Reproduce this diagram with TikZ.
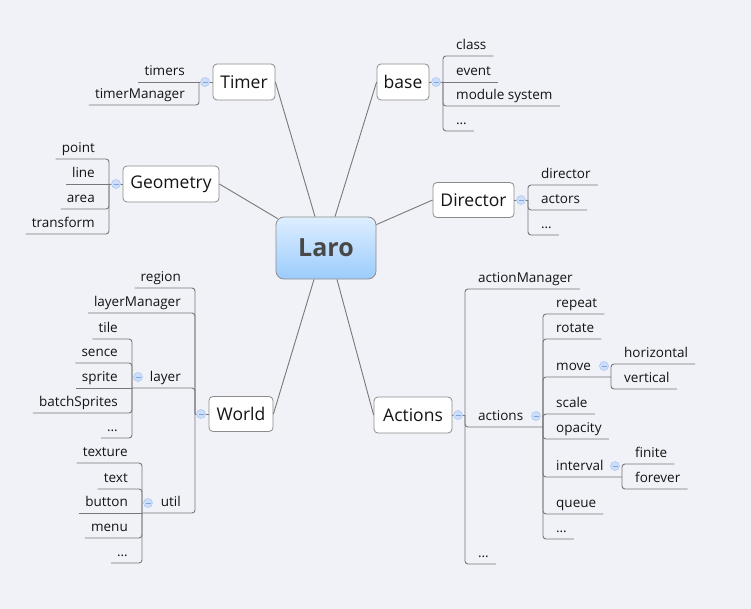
\documentclass[tikz,border=0pt]{standalone}
\usepackage{fontspec}
\setmainfont{Open Sans}
\definecolor{bgc}{RGB}{241,242,248}
\definecolor{lnc}{RGB}{120,120,120}
\definecolor{txc}{RGB}{20,20,20}
\definecolor{bxd}{RGB}{140,140,140}
\definecolor{cfill}{RGB}{205,222,250}
\definecolor{cdraw}{RGB}{175,200,240}
\definecolor{cminus}{RGB}{130,165,220}
\definecolor{rtop}{RGB}{222,238,255}
\definecolor{rbot}{RGB}{155,204,252}
\definecolor{rtxt}{RGB}{72,72,72}
\newcommand\lffont{\fontsize{13.5}{15}\selectfont}
\newcommand\bxfont{\fontsize{17.5}{20}\selectfont}
\newcommand\rtfont{\fontsize{25}{28}\selectfont\bfseries}
\tikzset{
 leaf/.style={inner sep=0pt, text height=10pt, text depth=6pt, font=\lffont, text=txc},
 leafR/.style={leaf, anchor=south west, execute at begin node={\hspace*{13pt}}, execute at end node={\hspace*{7pt}}},
 leafL/.style={leaf, anchor=south east, execute at begin node={\hspace*{6pt}}, execute at end node={\hspace*{14pt}}},
 topic/.style={draw=bxd, fill=white, rounded corners=4pt, line width=0.8pt, font=\bxfont, text=txc, inner sep=0pt},
 root/.style={draw=bxd, top color=rtop, bottom color=rbot, rounded corners=8pt, line width=0.8pt, font=\rtfont, text=rtxt, inner sep=0pt, minimum width=100pt, minimum height=62pt},
 conn/.style={draw=lnc, line width=0.9pt, rounded corners=3pt},
 mainln/.style={draw=lnc, line width=0.9pt},
 coll/.style={circle, inner sep=0pt, minimum size=9pt, fill=cfill, draw=cdraw, line width=0.6pt,
   path picture={\draw[cminus, line width=0.8pt] ([xshift=-2.5pt]path picture bounding box.center) -- ([xshift=2.5pt]path picture bounding box.center);}},
}
\begin{document}
\begin{tikzpicture}[x=1pt,y=-1pt]
\fill[bgc] (0,0) rectangle (751,609);
\useasboundingbox (0,0) rectangle (751,609);

% root and main topics
\node[root] (laro) at (326,248) {Laro};
\node[topic, minimum width=62pt, minimum height=36pt] (timer) at (244,82) {Timer};
\node[topic, minimum width=96pt, minimum height=36pt] (geo) at (171,184) {Geometry};
\node[topic, minimum width=52pt, minimum height=36pt] (base) at (403,82) {base};
\node[topic, minimum width=81pt, minimum height=35pt] (dir) at (473.5,200) {Director};
\node[topic, minimum width=64pt, minimum height=35pt] (world) at (241,414) {World};
\node[topic, minimum width=78pt, minimum height=36pt] (act) at (413,415) {Actions};

\draw[mainln] (timer.east) -- ([xshift=-11pt]laro.north);
\draw[mainln] (base.west) -- ([xshift=9pt]laro.north);
\draw[mainln] (geo.east) -- ([xshift=2pt,yshift=-2pt]laro.north west);
\draw[mainln] (dir.west) -- ([yshift=-8pt]laro.north east);
\draw[mainln] (world.east) -- ([xshift=-12pt]laro.south);
\draw[mainln] (act.west) -- ([xshift=11pt]laro.south);

% forks
\coordinate (fTimer) at (199,82);
\coordinate (fGeo) at (109,184);
\coordinate (fBase) at (443,82);
\coordinate (fDir) at (528,200);
\coordinate (fWorld) at (195,414);
\coordinate (fLayer) at (132,388);
\coordinate (fUtil) at (142,513);
\coordinate (fAct) at (465,415);
\coordinate (fActs) at (543,427);
\coordinate (fMove) at (611,377);
\coordinate (fInt) at (622,477);

% Timer
\node[leafL] (lTimers) at (199,82) {timers};
\node[leafL] (lTimerManager) at (199,105) {timerManager};
\draw[conn] (timer.west) -- (fTimer);
\draw[conn] (fTimer) -- (lTimers.south west);
\draw[conn] (fTimer) |- (lTimerManager.south west);

% Geometry
\node[leafL] (lPoint) at (109,159) {point};
\node[leafL] (lLine) at (109,184) {line};
\node[leafL] (lArea) at (109,209) {area};
\node[leafL] (lTransform) at (109,234) {transform};
\draw[conn] (geo.west) -- (fGeo);
\draw[conn] (fGeo) |- (lPoint.south west);
\draw[conn] (fGeo) -- (lLine.south west);
\draw[conn] (fGeo) |- (lArea.south west);
\draw[conn] (fGeo) |- (lTransform.south west);

% base
\node[leafR] (lClass) at (443,56) {class};
\node[leafR] (lEvent) at (443,82) {event};
\node[leafR] (lModule) at (443,106) {module system};
\node[leafR] (lBaseDots) at (443,131) {…};
\draw[conn] (base.east) -- (fBase);
\draw[conn] (fBase) |- (lClass.south east);
\draw[conn] (fBase) -- (lEvent.south east);
\draw[conn] (fBase) |- (lModule.south east);
\draw[conn] (fBase) |- (lBaseDots.south east);

% Director
\node[leafR] (lDirector) at (528,185) {director};
\node[leafR] (lActors) at (528,210) {actors};
\node[leafR] (lDirDots) at (528,235) {…};
\draw[conn] (dir.east) -- (fDir);
\draw[conn] (fDir) |- (lDirector.south east);
\draw[conn] (fDir) |- (lActors.south east);
\draw[conn] (fDir) |- (lDirDots.south east);

% World
\node[leafL] (lRegion) at (195,288) {region};
\node[leafL] (lLayerManager) at (195,313) {layerManager};
\node[leafL] (lLayer) at (195,388) {layer};
\node[leafL] (lUtil) at (195,513) {util};
\draw[conn] (world.west) -- (fWorld);
\draw[conn] (fWorld) |- (lRegion.south west);
\draw[conn] (fWorld) |- (lLayerManager.south west);
\draw[conn] (fWorld) |- (lLayer.south) -- (fLayer);
\draw[conn] (fWorld) |- (lUtil.south) -- (fUtil);

% layer
\node[leafL] (lTile) at (132,339) {tile};
\node[leafL] (lSence) at (132,363) {sence};
\node[leafL] (lSprite) at (132,388) {sprite};
\node[leafL] (lBatch) at (132,413) {batchSprites};
\node[leafL] (lLayerDots) at (132,438) {…};
\draw[conn] (fLayer) |- (lTile.south west);
\draw[conn] (fLayer) |- (lSence.south west);
\draw[conn] (fLayer) -- (lSprite.south west);
\draw[conn] (fLayer) |- (lBatch.south west);
\draw[conn] (fLayer) |- (lLayerDots.south west);

% util
\node[leafL] (lTexture) at (142,463) {texture};
\node[leafL] (lText) at (142,489) {text};
\node[leafL] (lButton) at (142,513) {button};
\node[leafL] (lMenu) at (142,538) {menu};
\node[leafL] (lUtilDots) at (142,563) {…};
\draw[conn] (fUtil) |- (lTexture.south west);
\draw[conn] (fUtil) |- (lText.south west);
\draw[conn] (fUtil) -- (lButton.south west);
\draw[conn] (fUtil) |- (lMenu.south west);
\draw[conn] (fUtil) |- (lUtilDots.south west);

% Actions
\node[leafR] (lActionManager) at (465,289) {actionManager};
\node[leafR] (lActions) at (465,427) {actions};
\node[leafR] (lActDots) at (465,564) {…};
\draw[conn] (act.east) -- (fAct);
\draw[conn] (fAct) |- (lActionManager.south east);
\draw[conn] (fAct) |- (lActions.south) -- (fActs);
\draw[conn] (fAct) |- (lActDots.south east);

% actions
\node[leafR] (lRepeat) at (543,314) {repeat};
\node[leafR] (lRotate) at (543,339) {rotate};
\node[leafR] (lMove) at (543,377) {move};
\node[leafR] (lScale) at (543,414) {scale};
\node[leafR] (lOpacity) at (543,439) {opacity};
\node[leafR] (lInterval) at (543,477) {interval};
\node[leafR] (lQueue) at (543,514) {queue};
\node[leafR] (lActsDots) at (543,539) {…};
\draw[conn] (fActs) |- (lRepeat.south east);
\draw[conn] (fActs) |- (lRotate.south east);
\draw[conn] (fActs) |- (lMove.south) -- (fMove);
\draw[conn] (fActs) |- (lScale.south east);
\draw[conn] (fActs) |- (lOpacity.south east);
\draw[conn] (fActs) |- (lInterval.south) -- (fInt);
\draw[conn] (fActs) |- (lQueue.south east);
\draw[conn] (fActs) |- (lActsDots.south east);

% move
\node[leafR] (lHorizontal) at (611,364) {horizontal};
\node[leafR] (lVertical) at (611,389) {vertical};
\draw[conn] (fMove) |- (lHorizontal.south east);
\draw[conn] (fMove) |- (lVertical.south east);

% interval
\node[leafR] (lFinite) at (622,464) {finite};
\node[leafR] (lForever) at (622,489) {forever};
\draw[conn] (fInt) |- (lFinite.south east);
\draw[conn] (fInt) |- (lForever.south east);

% collapse markers
\node[coll] (cTimer) at (205,82) {};
\node[coll] (cGeo) at (116,184) {};
\node[coll] (cBase) at (436,82) {};
\node[coll] (cDir) at (521,200) {};
\node[coll] (cWorld) at (201,414) {};
\node[coll] (cLayer) at (138,377) {};
\node[coll] (cUtil) at (148,503) {};
\node[coll] (cAct) at (458,415) {};
\node[coll] (cActs) at (536,416) {};
\node[coll] (cMove) at (604,366) {};
\node[coll] (cInt) at (615,466) {};
\end{tikzpicture}
\end{document}
